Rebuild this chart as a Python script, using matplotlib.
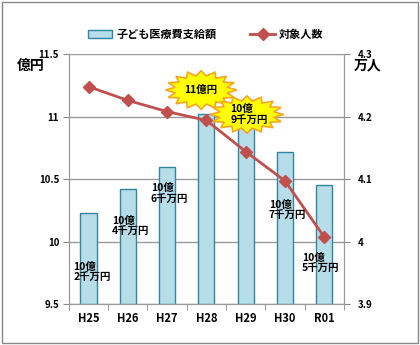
import matplotlib.pyplot as plt
import numpy as np
from matplotlib.patches import Polygon, Rectangle

plt.rcParams['font.family'] = ['Noto Sans CJK JP', 'DejaVu Sans']

# data
years = ["H25", "H26", "H27", "H28", "H29", "H30", "R01"]
amount = [10.23, 10.42, 10.60, 11.02, 10.95, 10.72, 10.45]   # 億円
people = [4.248, 4.226, 4.208, 4.194, 4.144, 4.097, 4.007]   # 万人
labels = ["10億\n2千万円", "10億\n4千万円", "10億\n6千万円", "11億円",
          "10億\n9千万円", "10億\n7千万円", "10億\n5千万円"]

fig = plt.figure(figsize=(4.2, 3.45), dpi=100)
fig.patches.append(Rectangle((0.005, 0.006), 0.99, 0.988, transform=fig.transFigure,
                             fill=False, edgecolor="#888888", lw=1))
ax = fig.add_axes([0.164, 0.119, 0.655, 0.724])
ax2 = ax.twinx()

x = np.arange(len(years))
bars = ax.bar(x, [a - 9.5 for a in amount], bottom=9.5, width=0.41,
              color="#b7dde8", edgecolor="#31859c", lw=1, zorder=3,
              label="子ども医療費支給額")
ln, = ax2.plot(x, people, color="#c0504d", lw=2, marker="D", ms=6,
               zorder=4, label="対象人数")

ax.set_ylim(9.5, 11.5)
ax.set_yticks([9.5, 10, 10.5, 11, 11.5])
ax.set_yticklabels(["9.5", "10", "10.5", "11", "11.5"])
ax2.set_ylim(3.9, 4.3)
ax2.set_yticks([3.9, 4.0, 4.1, 4.2, 4.3])
ax2.set_yticklabels(["3.9", "4", "4.1", "4.2", "4.3"])
ax.set_xlim(-0.5, len(years) - 0.5)
ax.set_xticks(x)
ax.set_xticklabels(years)
ax.set_xticks(np.arange(-0.5, len(years)), minor=True)
ax.tick_params(axis="x", which="major", length=0, pad=6)
ax.tick_params(axis="x", which="minor", length=4, color="#888888")
ax.tick_params(axis="y", length=4, color="#888888", pad=3)
ax2.tick_params(axis="y", length=4, color="#888888", pad=6)
for a in (ax, ax2):
    for lab in a.get_xticklabels():
        lab.set_fontsize(8)
    for lab in a.get_yticklabels():
        lab.set_fontsize(7)
    for lab in a.get_xticklabels() + a.get_yticklabels():
        lab.set_fontweight("bold")
        lab.set_style("italic")
ax.grid(axis="y", color="#999999", lw=1, zorder=0)
ax.set_axisbelow(True)
for a in (ax, ax2):
    a.spines["top"].set_visible(False)
    for s in ("left", "right", "bottom"):
        a.spines[s].set_color("#999999")

fig.text(0.04, 0.809, "億円", fontsize=10, fontweight="bold", va="center")
fig.text(0.843, 0.809, "万人", fontsize=10, fontweight="bold", va="center")

fig.legend([bars, ln], ["子ども医療費支給額", "対象人数"], loc="center",
           bbox_to_anchor=(0.49, 0.9), ncol=2, frameon=False,
           handlelength=2.2, handletextpad=0.4, columnspacing=3,
           prop={"weight": "bold", "size": 8})


def starburst(cx, cy, rx, ry, n=16):
    ang = np.linspace(0, 2 * np.pi, 2 * n, endpoint=False)
    r = np.where(np.arange(2 * n) % 2 == 0, 1.0, 0.74)
    pts = np.column_stack([cx + rx * r * np.cos(ang), cy + ry * r * np.sin(ang)])
    return Polygon(pts, closed=True, transform=fig.transFigure,
                   facecolor="#ffff00", edgecolor="#f5a623", lw=1.2, zorder=5)


fig.patches.append(starburst(0.479, 0.739, 0.085, 0.056))
fig.patches.append(starburst(0.588, 0.668, 0.088, 0.054))

# label positions (left edge, vertical centre) in figure fraction
lab_pos = [(0.174, 0.212), (0.267, 0.345), (0.359, 0.439), (0.438, 0.739),
           (0.548, 0.669), (0.640, 0.391), (0.719, 0.238)]
for t, (px, py) in zip(labels, lab_pos):
    fig.text(px, py, t, fontsize=7.5, fontweight="bold", ha="left", va="center",
             linespacing=1.05, zorder=6)

fig.savefig("out.png", dpi=100)
